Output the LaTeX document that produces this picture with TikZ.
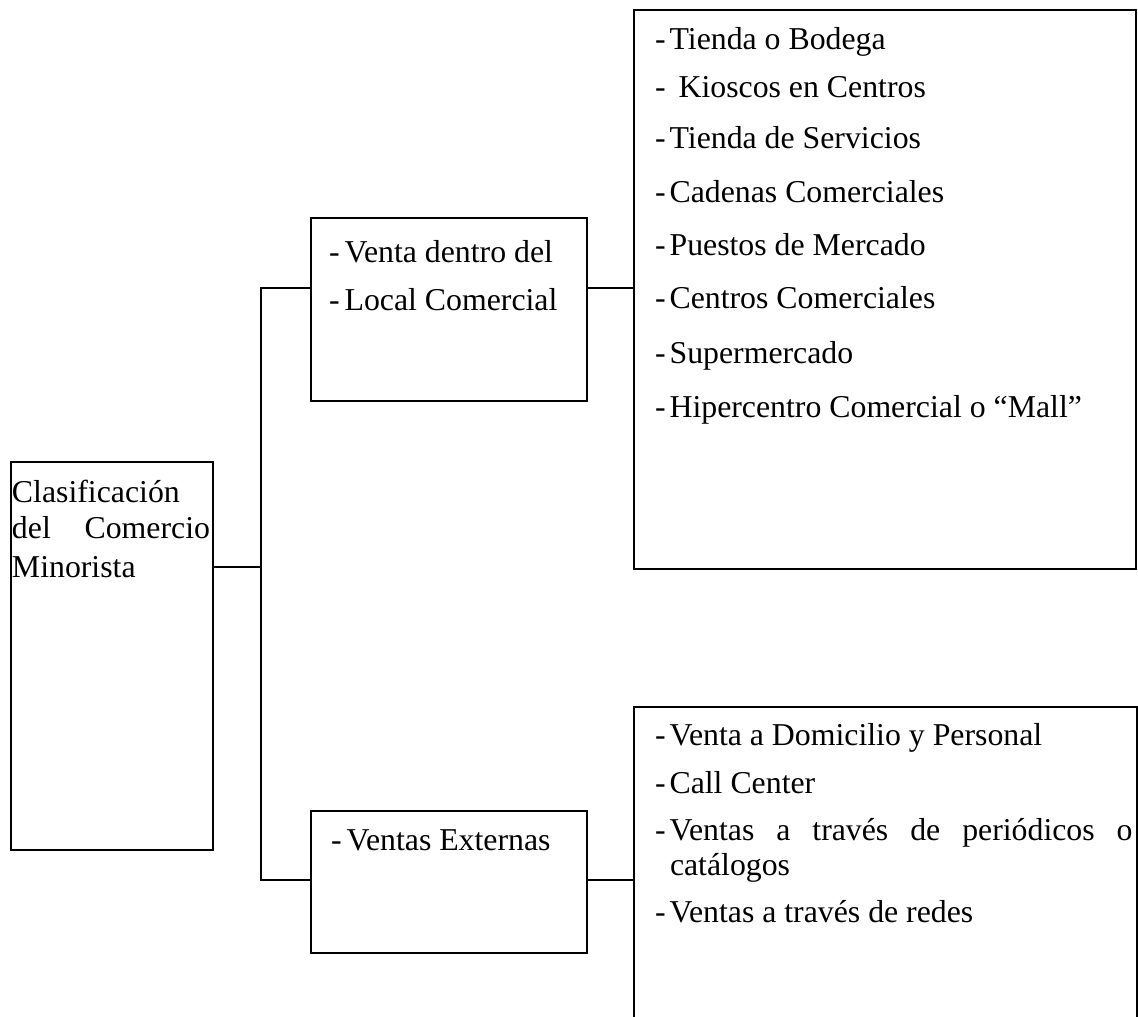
\documentclass[tikz,border=0pt]{standalone}
\usepackage{fontspec}
\setmainfont{Liberation Serif}
\begin{document}
\begin{tikzpicture}[x=1pt,y=-1pt,
  box/.style={draw, line width=1.5pt, inner sep=0pt, outer sep=0pt, rectangle},
  txt/.style={anchor=base west, inner sep=0pt, outer sep=0pt, font=\fontsize{31.8}{36}\selectfont},
  conn/.style={line width=1.5pt}]
\clip (0,0) rectangle (1138,1017);
\useasboundingbox (0,0) rectangle (1138,1017);

% boxes
\node[box, minimum width=202pt, minimum height=388pt] (root) at (112,656) {};
\node[box, minimum width=276pt, minimum height=183pt] (m1) at (449,309.5) {};
\node[box, minimum width=276pt, minimum height=142pt] (m2) at (449,882) {};
\node[box, minimum width=502pt, minimum height=559pt] (r1) at (885,289.5) {};
\node[box, minimum width=503pt, minimum height=330pt] (r2) at (885.5,872) {};

% root text
\node[txt] (c1) at (12,502) {Clasificación};
\node[txt] (c2) at (12,538) {\hbox to 198pt{del\hfill Comercio}};
\node[txt] (c3) at (12,577) {Minorista};

% middle texts
\node[txt] (a1) at (329,262) {-\hspace{5pt}Venta dentro del};
\node[txt] (a2) at (329,310) {-\hspace{5pt}Local Comercial};
\node[txt] (b1) at (331,850) {-\hspace{5pt}Ventas Externas};

% top right texts
\node[txt] (p1) at (655,49)  {-\hspace{4pt}Tienda o Bodega};
\node[txt] (p2) at (655,97)  {-\hspace{13pt}Kioscos en Centros};
\node[txt] (p3) at (655,148) {-\hspace{4pt}Tienda de Servicios};
\node[txt] (p4) at (655,202) {-\hspace{4pt}Cadenas Comerciales};
\node[txt] (p5) at (655,255) {-\hspace{4pt}Puestos de Mercado};
\node[txt] (p6) at (655,308) {-\hspace{4pt}Centros Comerciales};
\node[txt] (p7) at (655,363) {-\hspace{4pt}Supermercado};
\node[txt] (p8) at (655,417) {-\hspace{4pt}Hipercentro Comercial o “Mall”};

% bottom right texts
\node[txt] (q1) at (655,745) {-\hspace{4pt}Venta a Domicilio y Personal};
\node[txt] (q2) at (655,793) {-\hspace{4pt}Call Center};
\node[txt] (q3) at (655,840) {-\hspace{4pt}\hbox to 463pt{Ventas\hfill a\hfill través\hfill de\hfill periódicos\hfill o}};
\node[txt] (q4) at (670,875) {catálogos};
\node[txt] (q5) at (655,922) {-\hspace{4pt}Ventas a través de redes};

% connectors
\coordinate (jr) at (261,567);
\coordinate (jt) at (261,288);
\coordinate (jb) at (261,880);
\draw[conn] (root.east |- jr) -- (jr);
\draw[conn] (m1.west |- jt) -- (jt) -- (jb) -- (m2.west |- jb);
\draw[conn] (m1.east |- jt) -- (r1.west |- jt);
\draw[conn] (m2.east |- jb) -- (r2.west |- jb);
\end{tikzpicture}
\end{document}
